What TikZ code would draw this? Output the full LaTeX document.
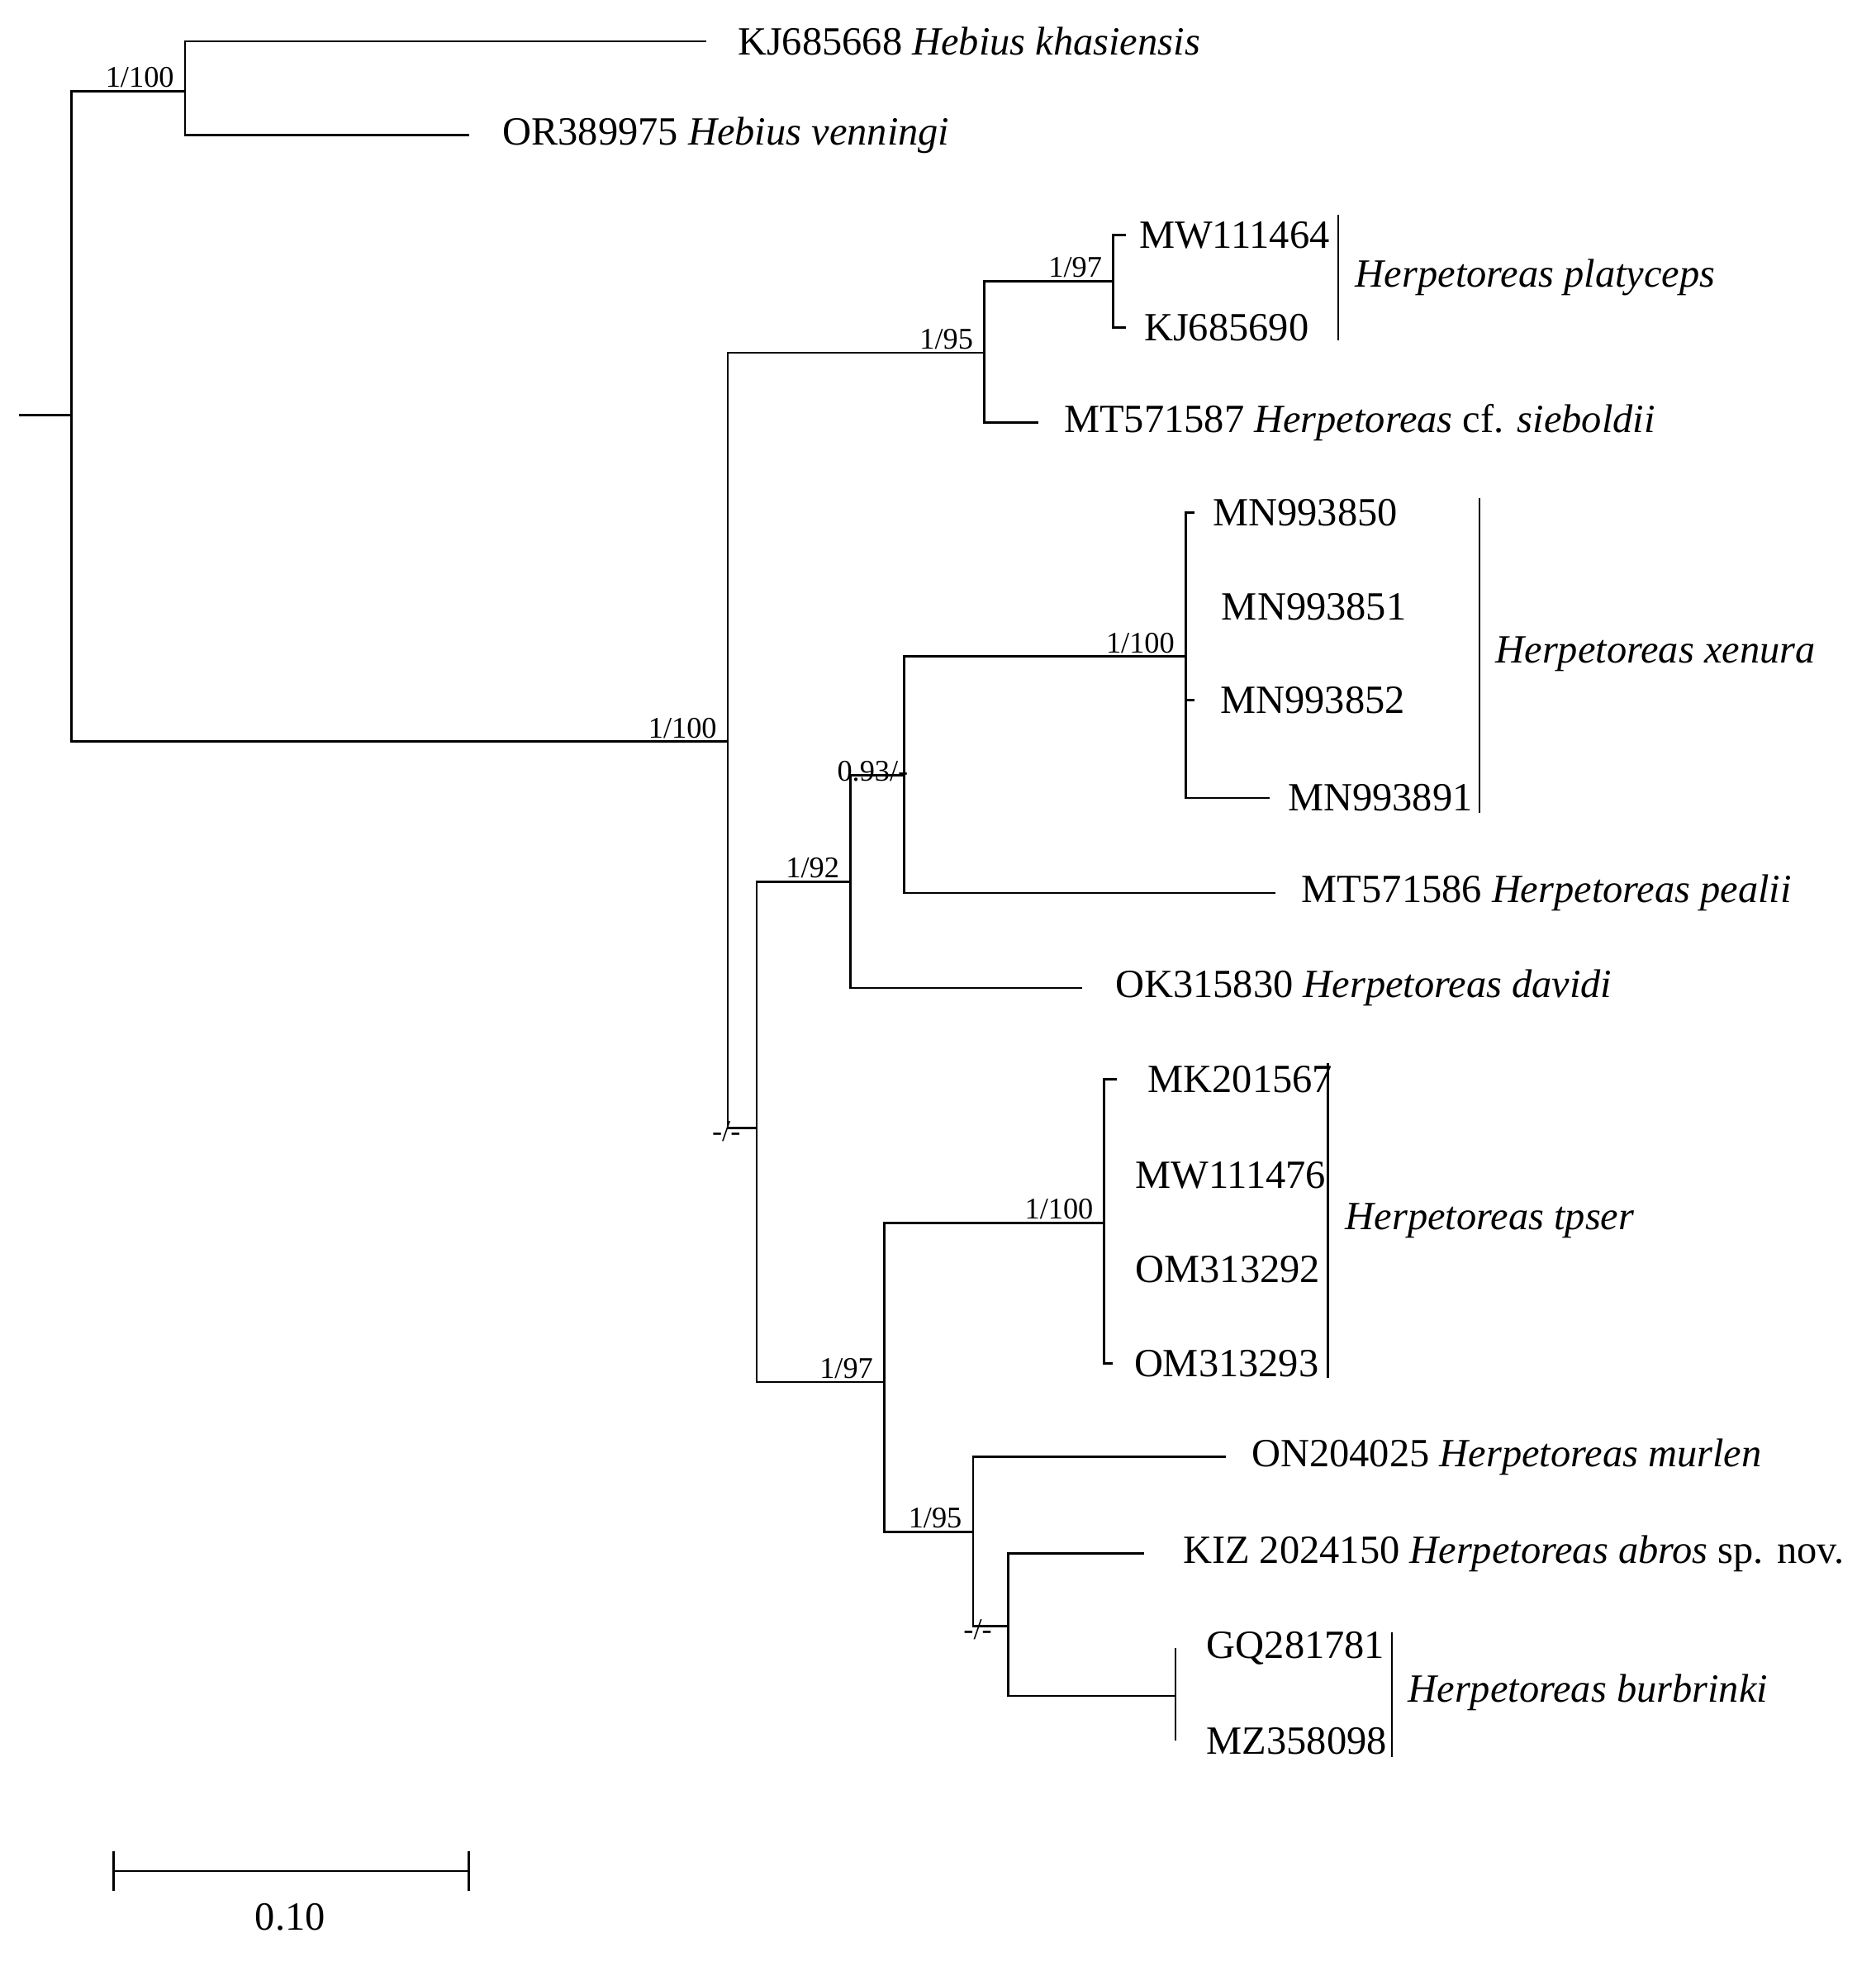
\documentclass[tikz,border=0pt]{standalone}
\usepackage{fontspec}
\setmainfont{Liberation Serif}
\begin{document}
\begin{tikzpicture}[x=0.5pt,y=-0.5pt,line width=0.9pt,
 tip/.style={anchor=west,font=\fontsize{16}{18}\selectfont,inner sep=0pt},
 sp/.style={anchor=west,font=\fontsize{16}{18}\selectfont\itshape,inner sep=0pt},
 sup/.style={anchor=south east,font=\fontsize{12}{14}\selectfont,inner sep=1pt},
 sdn/.style={anchor=north east,font=\fontsize{12}{14}\selectfont,inner sep=1pt}]
\useasboundingbox (0,0) rectangle (1500,1576);
% internal nodes
\coordinate (R0) at (15,332);
\coordinate (A) at (57,332);
\coordinate (H) at (148,73);
\coordinate (B) at (582,593);
\coordinate (P) at (787,282);
\coordinate (P2) at (890,225);
\coordinate (C) at (605,902);
\coordinate (D) at (680,705);
\coordinate (E) at (723,620);
\coordinate (X) at (948,525);
\coordinate (F) at (707,1105);
\coordinate (T) at (883,978);
\coordinate (G) at (778,1225);
\coordinate (K) at (806,1300);
\coordinate (Bu) at (940,1356);
% tips
\coordinate (t1) at (565,33);
\coordinate (t2) at (375,108);
\coordinate (t3) at (900,188);
\coordinate (t4) at (900,262);
\coordinate (t5) at (830,338);
\coordinate (t6) at (955,410);
\coordinate (t7) at (948,485);
\coordinate (t8) at (955,560);
\coordinate (t9) at (1015,638);
\coordinate (t10) at (1020,714);
\coordinate (t11) at (865,790);
\coordinate (t12) at (893,863);
\coordinate (t13) at (883,940);
\coordinate (t14) at (883,1015);
\coordinate (t15) at (890,1090);
\coordinate (t16) at (980,1165);
\coordinate (t17) at (915,1242);
\coordinate (t18) at (940,1318);
\coordinate (t19) at (940,1392);
% edges
\draw (R0) -- (A);
\draw (A) |- (H); \draw (A) |- (B);
\draw (H) |- (t1); \draw (H) |- (t2);
\draw (B) |- (P); \draw (B) |- (C);
\draw (P) |- (P2); \draw (P) |- (t5);
\draw (P2) |- (t3); \draw (P2) |- (t4);
\draw (C) |- (D); \draw (C) |- (F);
\draw (D) |- (E); \draw (D) |- (t11);
\draw (E) |- (X); \draw (E) |- (t10);
\draw (X) |- (t6); \draw (X) |- (t7); \draw (X) |- (t9);
\draw (X |- t8) -- (t8);
\draw (F) |- (T); \draw (F) |- (G);
\draw (T) |- (t12); \draw (T) |- (t13); \draw (T) |- (t14); \draw (T) |- (t15);
\draw (G) |- (t16); \draw (G) |- (K);
\draw (K) |- (t17); \draw (K) |- (Bu);
\draw (Bu) |- (t18); \draw (Bu) |- (t19);
% support values
\node[sup] at ([xshift=-3]H) {1/100};
\node[sup] at ([xshift=-3]B) {1/100};
\node[sup] at ([xshift=-3]P) {1/95};
\node[sup] at ([xshift=-3]P2) {1/97};
\node[sdn] at ([xshift=-5,yshift=4]C) {-/-};
\node[sup] at ([xshift=-3]D) {1/92};
\node[sup] at ([xshift=3,yshift=-4]E) {0.93/-};
\node[sup] at ([xshift=-3]X) {1/100};
\node[sup] at ([xshift=-3]F) {1/97};
\node[sup] at ([xshift=-3]T) {1/100};
\node[sup] at ([xshift=-3]G) {1/95};
\node[sdn] at ([xshift=-5,yshift=4]K) {-/-};
% tip labels
\node[tip] (l1) at ([xshift=12]t1) {KJ685668 \textit{Hebius khasiensis}};
\node[tip] (l2) at ([xshift=13]t2) {OR389975 \textit{Hebius venningi}};
\node[tip] (l3) at ([xshift=5]t3) {MW111464};
\node[tip] (l4) at ([xshift=7]t4) {KJ685690};
\node[tip] (l5) at ([xshift=10]t5) {MT571587 \textit{Herpetoreas} cf. \textit{sieboldii}};
\node[tip] (l6) at ([xshift=7]t6) {MN993850};
\node[tip] (l7) at ([xshift=14]t7) {MN993851};
\node[tip] (l8) at ([xshift=10]t8) {MN993852};
\node[tip] (l9) at ([xshift=7]t9) {MN993891};
\node[tip] (l10) at ([xshift=10]t10) {MT571586 \textit{Herpetoreas pealii}};
\node[tip] (l11) at ([xshift=13]t11) {OK315830 \textit{Herpetoreas davidi}};
\node[tip] (l12) at ([xshift=12]t12) {MK201567};
\node[tip] (l13) at ([xshift=12]t13) {MW111476};
\node[tip] (l14) at ([xshift=12]t14) {OM313292};
\node[tip] (l15) at ([xshift=8]t15) {OM313293};
\node[tip] (l16) at ([xshift=10]t16) {ON204025 \textit{Herpetoreas murlen}};
\node[tip] (l17) at ([xshift=15]t17) {KIZ 2024150 \textit{Herpetoreas abros} sp. nov.};
\node[tip] (l18) at ([xshift=12]t18) {GQ281781};
\node[tip] (l19) at ([xshift=12]t19) {MZ358098};
% clade bars
\coordinate (pa) at (1070,172); \coordinate (pb) at (1070,272);
\draw (pa) -- (pb); \node[sp] (s1) at (1083,222) {Herpetoreas platyceps};
\coordinate (xa) at (1183,398); \coordinate (xb) at (1183,650);
\draw (xa) -- (xb); \node[sp] (s2) at (1195,523) {Herpetoreas xenura};
\coordinate (ta) at (1062,850); \coordinate (tb) at (1062,1102);
\draw (ta) -- (tb); \node[sp] (s3) at (1075,976) {Herpetoreas tpser};
\coordinate (ba) at (1113,1305); \coordinate (bb) at (1113,1405);
\draw (ba) -- (bb); \node[sp] (s4) at (1125,1353) {Herpetoreas burbrinki};
% scale bar
\coordinate (sa) at (91,1496); \coordinate (sb) at (375,1496);
\draw (sa) -- (sb);
\draw ([yshift=-8]sa) -- ([yshift=8]sa);
\draw ([yshift=-8]sb) -- ([yshift=8]sb);
\node[tip,anchor=center] (sl) at (232,1533) {0.10};
\end{tikzpicture}
\end{document}
